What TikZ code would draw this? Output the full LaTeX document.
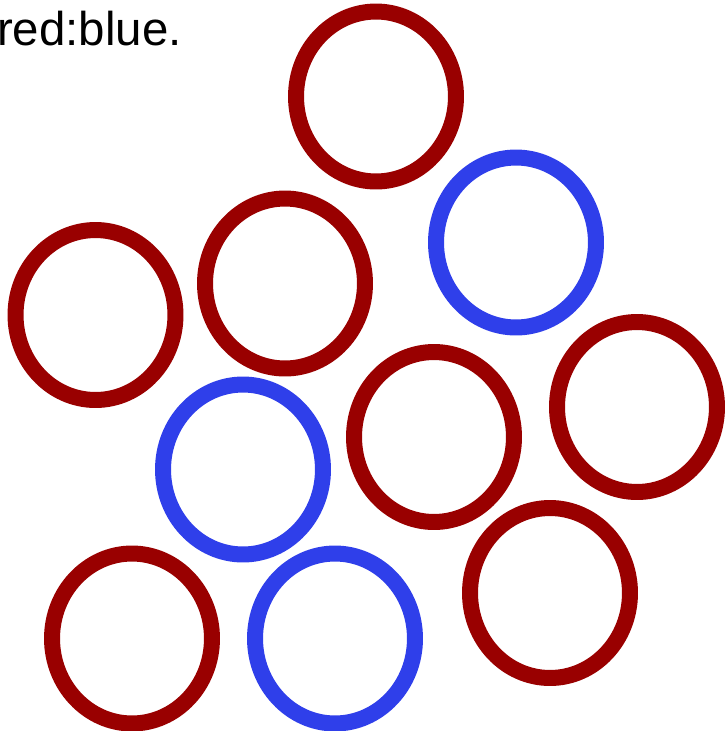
\documentclass[tikz,border=0pt]{standalone}
\usepackage{fontspec}
\setmainfont{Liberation Sans}
\usepackage{tikz}
\usetikzlibrary{shapes.geometric}
\definecolor{ballred}{RGB}{153,0,0}
\definecolor{ballblue}{RGB}{47,63,234}
\tikzset{
  ring/.style={ellipse, draw=#1, line width=0.32cm, inner sep=0pt,
               minimum width=3.2cm, minimum height=3.4cm},
  caption/.style={anchor=base east, inner sep=0pt, font=\fontsize{27}{32}\selectfont},
}

\begin{document}
\begin{tikzpicture}[x=0.02cm, y=-0.02cm]
    \useasboundingbox (0,0) rectangle (725,731);
    \node[caption] (ratio) at (182,45.5) {red:blue.};
    \node[ring=ballred]  (top)   at (376,96.5) {};
    \node[ring=ballblue] (bTop)  at (516,242.5) {};
    \node[ring=ballred]  (left)  at (95.5,315) {};
    \node[ring=ballred]  (mid)   at (285,283.5) {};
    \node[ring=ballred]  (right) at (637,407) {};
    \node[ring=ballred]  (ctr)   at (434,437) {};
    \node[ring=ballblue] (bMid)  at (243,469.5) {};
    \node[ring=ballred]  (lowR)  at (550,593) {};
    \node[ring=ballred]  (lowL)  at (132,638.5) {};
    \node[ring=ballblue] (bLow)  at (335,638.5) {};
  \end{tikzpicture}
\end{document}
